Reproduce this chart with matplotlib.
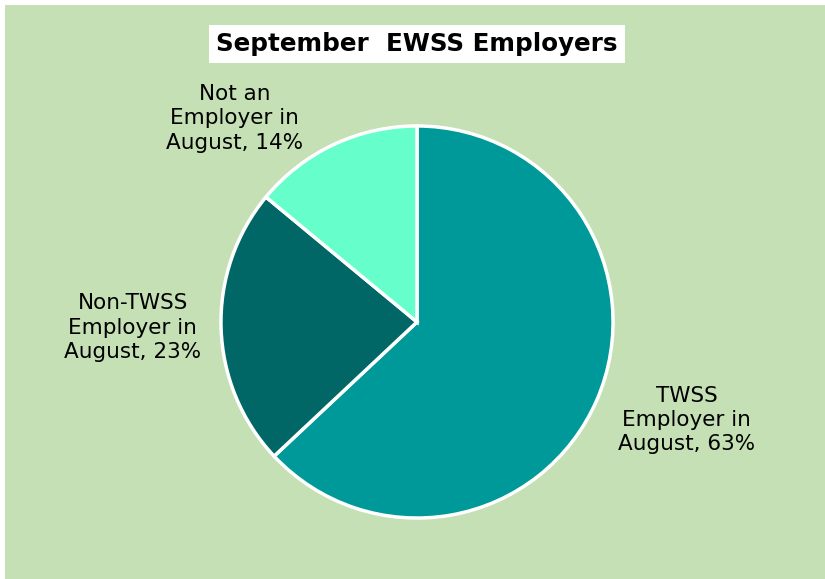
import matplotlib.pyplot as plt
from matplotlib.patches import Rectangle

# data
labels = ["TWSS\nEmployer in\nAugust, 63%",
          "Non-TWSS\nEmployer in\nAugust, 23%",
          "Not an\nEmployer in\nAugust, 14%"]
shares = [63, 23, 14]
colors = ["#009999", "#006666", "#66FFCC"]

# label centres in pie units (radius = 1)
label_pos = [(1.375, -0.50), (-1.45, -0.03), (-0.93, 1.04)]

W, H = 825, 579
fig = plt.figure(figsize=(W / 100, H / 100), dpi=100)
fig.patch.set_facecolor("white")
fig.patches.append(Rectangle((5 / W, 0), 1 - 5 / W, 1 - 5 / H,
                             transform=fig.transFigure, facecolor="#C5E0B4",
                             edgecolor="none", zorder=-10))

cx, cy, r = 417, 322, 198
ax = fig.add_axes([(cx - r) / W, (H - cy - r) / H, 2 * r / W, 2 * r / H])
ax.set_facecolor("none")
ax.set_zorder(5)

wedges, _ = ax.pie(shares, colors=colors, startangle=90, counterclock=False,
                   wedgeprops=dict(edgecolor="white", linewidth=2.5))
ax.set_xlim(-1.01, 1.01)
ax.set_ylim(-1.01, 1.01)
ax.set_aspect("equal")
ax.axis("off")

for txt, (x, y) in zip(labels, label_pos):
    ax.text(x, y, txt, ha="center", va="center", multialignment="center",
            fontsize=15.5, color="black", linespacing=1.28)

fig.text(cx / W, 1 - 44 / H, "September  EWSS Employers", ha="center", va="center",
         fontsize=17.7, fontweight="bold", color="black", zorder=6,
         bbox=dict(facecolor="white", edgecolor="none", boxstyle="square,pad=0.28"))

plt.savefig("out.png", dpi=100, facecolor=fig.get_facecolor())
